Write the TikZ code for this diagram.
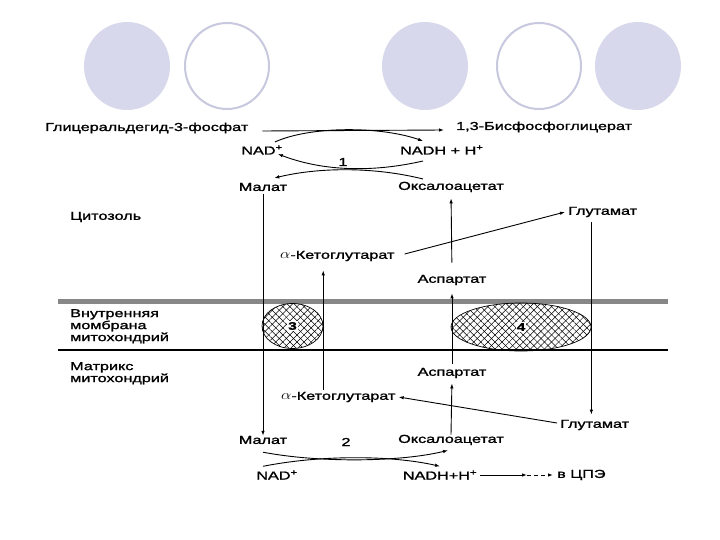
\documentclass[tikz,border=0pt]{standalone}
\usepackage{fontspec}
\setmainfont{Liberation Sans}[FakeStretch=1.41,FakeBold=1.5]
\usetikzlibrary{arrows.meta,calc,patterns.meta,shapes.geometric}
\definecolor{lav}{RGB}{216,216,236}
\definecolor{lavline}{RGB}{200,200,222}
\definecolor{memgray}{RGB}{135,135,135}
\newcommand{\alf}{\scalebox{1.35}[1.15]{$\alpha$}}
\begin{document}
\begin{tikzpicture}[x=1pt,y=-1pt,
  lbl/.style={inner sep=0pt,font=\fontsize{11.5}{12}\selectfont},
  num/.style={inner sep=1pt,fill=white,font=\fontsize{11}{12}\selectfont\bfseries},
  arr/.style={line width=0.9pt,-{Latex[length=5pt,width=3.5pt]}},
  hatch/.style={ellipse,draw,line width=0.7pt,inner sep=0pt,
    preaction={pattern={Lines[angle=45,distance=5pt,line width=0.5pt]}},
    pattern={Lines[angle=-45,distance=5pt,line width=0.5pt]}},
  dot/.style={ellipse,fill=lav,minimum width=86pt,minimum height=88pt,inner sep=0pt},
  ring/.style={ellipse,draw=lavline,line width=2pt,fill=white,minimum width=84pt,minimum height=86pt,inner sep=0pt}]
\useasboundingbox (0,0) rectangle (720,540);
\fill[white] (0,0) rectangle (720,540);
% decorative circles
\node[dot] (c1) at (127,66) {};
\node[ring] (c2) at (227,66) {};
\node[dot] (c3) at (425,66) {};
\node[ring] (c4) at (539,66) {};
\node[dot] (c5) at (638,66) {};
% membrane
\coordinate (mL) at (58,301); \coordinate (mR) at (668,301);
\draw[memgray,line width=5pt] (mL) -- (mR);
\coordinate (tL) at (58,350); \coordinate (tR) at (668,350);
\draw[line width=1.2pt] (tL) -- (tR);
% texts
\node[lbl,anchor=west] (g3p) at (45,128) {Глицеральдегид-3-фосфат};
\node[lbl,anchor=west] (bpg) at (456,127) {1,3-Бисфосфоглицерат};
\node[lbl] (nad1) at (262,150) {NAD\textsuperscript{+}};
\node[lbl,anchor=west] (nadh1) at (400,150) {NADH + H\textsuperscript{+}};
\node[lbl] (r1) at (343,162) {1};
\node[lbl] (mal1) at (263,187) {Малат};
\node[lbl] (oaa1) at (451,187) {Оксалоацетат};
\node[lbl,anchor=west] (cyt) at (70,217) {Цитозоль};
\node[lbl,anchor=west] (glu1) at (568,212) {Глутамат};
\node[lbl,anchor=west] (akg1) at (280,256) {\alf-Кетоглутарат};
\node[lbl] (asp1) at (452,280) {Аспартат};
\node[lbl,anchor=north west,align=left] (mem) at (70,309) {Внутренняя\\момбрана\\митохондрий};
\node[lbl,anchor=north west,align=left] (mat) at (70,362) {Матрикс\\митохондрий};
\node[lbl] (asp2) at (452,373) {Аспартат};
\node[lbl,anchor=west] (akg2) at (281,397) {\alf-Кетоглутарат};
\node[lbl,anchor=west] (glu2) at (560,425) {Глутамат};
\node[lbl] (mal2) at (263,440) {Малат};
\node[lbl] (r2) at (346,442) {2};
\node[lbl] (oaa2) at (451,440) {Оксалоацетат};
\node[lbl] (nad2) at (277,475) {NAD\textsuperscript{+}};
\node[lbl] (nadh2) at (440,475) {NADH+H\textsuperscript{+}};
\node[lbl,anchor=west] (etc) at (557,475) {в ЦПЭ};
% transporters
\node[hatch,minimum width=61pt,minimum height=45pt] (e3) at (292.5,326) {};
\node[hatch,minimum width=140pt,minimum height=48pt] (e4) at (521,327) {};
\node[num] (n3) at (e3) {3};
\node[num] (n4) at (e4) {4};
% connectors
\draw[arr] ($(g3p.east)+(14,3)$) -- ($(bpg.west)+(-12,3)$);
\draw[arr] ($(nad1.east)+(-8,-8)$) .. controls (310,126) and (380,126) .. ($(nadh1.west)+(23,-9)$);
\draw[arr] ($(nadh1.west)+(23,11)$) .. controls (375,172) and (325,172) .. ($(nad1.east)+(-5,4)$);
\draw[arr] ($(oaa1.west)+(25,-8)$) .. controls (375,167) and (320,167) .. ($(mal1.east)+(-13,-9)$);
\draw[arr,shorten <=3pt] (mal1.south) -- (mal2.north);
\draw[arr,shorten <=2pt,shorten >=9pt] (akg2.north -| e3.east) -- (akg1.south -| e3.east);
\draw[arr] ($(akg1.east)+(10,-2)$) -- ($(glu1.west)+(-3,0)$);
\draw[arr,shorten >=5pt] (oaa2.north) -- (asp2.south);
\draw[arr,shorten <=4pt,shorten >=8pt] (asp2.north) -- (asp1.south);
\draw[arr,shorten <=12pt,shorten >=6pt] (asp1.north) -- (oaa1.south);
\draw[arr,shorten <=5pt,shorten >=5pt] (glu1.south -| e4.east) -- (glu2.north -| e4.east);
\draw[arr] ($(glu2.west)+(-3,-2)$) -- ($(akg2.east)+(3,0)$);
\draw[arr] ($(mal2.south)+(0,8)$) .. controls (320,463) and (400,462) .. ($(oaa2.south)+(-3,5)$);
\draw[arr] ($(nad2.north)+(-14,-4)$) .. controls (320,455) and (390,455) .. ($(nadh2.north)+(0,-4)$);
\coordinate (mid) at (527,475);
\draw[arr] ($(nadh2.east)+(3,0)$) -- (mid);
\draw[arr,dash pattern=on 4pt off 3pt] (mid) -- ($(etc.west)+(-4,0)$);
\end{tikzpicture}
\end{document}
